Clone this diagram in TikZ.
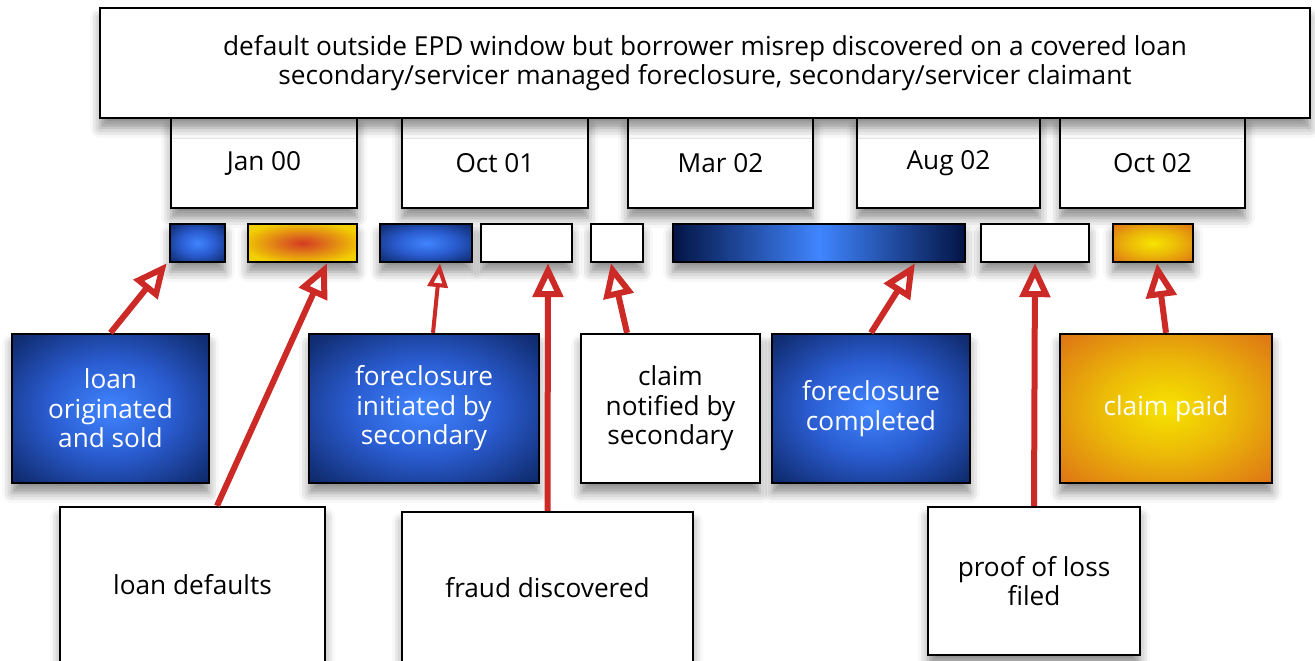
\documentclass[tikz,border=0pt]{standalone}
\usepackage{fontspec}
\setmainfont{Open Sans}
\usetikzlibrary{arrows.meta,shadows.blur}

\definecolor{lblue}{HTML}{4085FF}
\definecolor{mblue}{HTML}{2A5CD0}
\definecolor{eblue}{HTML}{123078}
\definecolor{dblue}{HTML}{031445}
\definecolor{ored}{HTML}{D43A22}
\definecolor{oorg}{HTML}{E07A18}
\definecolor{oyel}{HTML}{F2D000}
\definecolor{pyel}{HTML}{F7E400}
\definecolor{pmid}{HTML}{EBB808}
\definecolor{porg}{HTML}{DE7814}
\definecolor{pred}{HTML}{C8321F}
\definecolor{arred}{HTML}{CC2A26}

\pgfdeclareradialshading{blueglow}{\pgfpoint{0bp}{0bp}}{color(0bp)=(lblue); color(16bp)=(mblue); color(32bp)=(eblue); color(45bp)=(dblue); color(50bp)=(dblue)}
\pgfdeclareradialshading{yelglow}{\pgfpoint{0bp}{0bp}}{color(0bp)=(pyel); color(16bp)=(pmid); color(34bp)=(porg); color(46bp)=(pred); color(50bp)=(pred)}
\pgfdeclareradialshading{redglow}{\pgfpoint{0bp}{0bp}}{color(0bp)=(ored); color(12bp)=(oorg); color(28bp)=(oyel); color(50bp)=(oyel)}

\tikzstyle{shd} = [blur shadow={shadow xshift=0pt, shadow yshift=-5pt, shadow blur radius=5pt, shadow opacity=45}]
\tikzstyle{wb} = [draw, line width=1.2pt, fill=white, shd]
\tikzstyle{bb} = [draw, line width=1.2pt, shading=blueglow, text=white, shd]
\tikzstyle{ob} = [draw, line width=1.2pt, shading=redglow, shd]
\tikzstyle{yb} = [draw, line width=1.2pt, shading=yelglow, text=white, shd]
\tikzstyle{ar} = [-{Triangle[open, length=17pt, width=15pt]}, line width=3pt, arred]
\tikzstyle{every node}=[font=\fontsize{13.1}{14.8}\selectfont, align=center, inner sep=0pt]

\begin{document}
\begin{tikzpicture}[x=0.5pt, y=-0.5pt]
  \useasboundingbox (0,0) rectangle (1315,660);
  % dates
  \node[wb, minimum width=93pt, minimum height=45pt] (jan) at (264,163) {Jan 00};
  \node[wb, minimum width=93pt, minimum height=45pt] (oct1) at (495,163) {Oct 01};
  \node[wb, minimum width=92.5pt, minimum height=45pt] (mar) at (720.5,163) {Mar 02};
  \node[wb, minimum width=91.5pt, minimum height=45pt] (aug) at (948.5,163) {Aug 02};
  \node[wb, minimum width=92.5pt, minimum height=45pt] (oct2) at (1152.5,163) {Oct 02};
  % header
  \node[wb, minimum width=605pt, minimum height=55pt] (hdr) at (705,63)
    {default outside EPD window but borrower misrep discovered on a covered loan\\
     secondary/servicer managed foreclosure, secondary/servicer claimant};
  % bars
  \node[bb, minimum width=27.5pt, minimum height=19pt] (b1) at (197.5,243) {};
  \node[ob, minimum width=54.5pt, minimum height=19pt] (b2) at (302.5,243) {};
  \node[bb, minimum width=46pt, minimum height=19pt] (b3) at (426,243) {};
  \node[wb, minimum width=45.5pt, minimum height=19pt] (b4) at (526.5,243) {};
  \node[wb, minimum width=26pt, minimum height=19pt] (b5) at (617,243) {};
  \node[draw, line width=1.2pt, left color=dblue, right color=dblue, middle color=lblue, shd,
        minimum width=146pt, minimum height=19pt] (b6) at (819,243) {};
  \node[wb, minimum width=54pt, minimum height=19pt] (b7) at (1035,243) {};
  \node[yb, minimum width=40pt, minimum height=19pt] (b8) at (1153,243) {};
  % events
  \node[bb, minimum width=98.5pt, minimum height=74.5pt] (orig) at (110.5,408.5) {loan\\originated\\and sold};
  \node[bb, minimum width=115pt, minimum height=74.5pt] (fci) at (424,408.5) {foreclosure\\initiated by\\secondary};
  \node[wb, minimum width=89.5pt, minimum height=74.5pt] (claim) at (670.5,408.5) {claim\\notified by\\secondary};
  \node[bb, minimum width=99pt, minimum height=74.5pt] (fcc) at (871,408.5) {foreclosure\\completed};
  \node[yb, minimum width=106pt, minimum height=74.5pt] (paid) at (1166,408.5) {claim paid};
  \node[wb, minimum width=132.5pt, minimum height=78pt] (dflt) at (192.5,585) {loan defaults};
  \node[wb, minimum width=145.5pt, minimum height=75.5pt] (fraud) at (547.5,587.5) {fraud discovered};
  \node[wb, minimum width=106pt, minimum height=74pt] (proof) at (1034,581) {proof of loss\\filed};
  % arrows
  \draw[ar] (orig.north) -- ([xshift=-1pt]b1.south west);
  \draw[ar] ([xshift=12.25pt]dflt.north) -- ([xshift=12.25pt]b2.south);
  \draw[ar, line width=2pt, -{Triangle[open, length=12pt, width=10pt]}] ([xshift=4.5pt]fci.north) -- ([xshift=7pt]b3.south);
  \draw[ar] (fraud.north) -- ([xshift=10.75pt]b4.south);
  \draw[ar] ([xshift=-21.75pt]claim.north) -- ([xshift=-3pt]b5.south);
  \draw[ar] (fcc.north) -- ([xshift=48pt]b6.south);
  \draw[ar] (proof.north) -- (b7.south);
  \draw[ar] (paid.north) -- ([xshift=2pt]b8.south);
\end{tikzpicture}
\end{document}
